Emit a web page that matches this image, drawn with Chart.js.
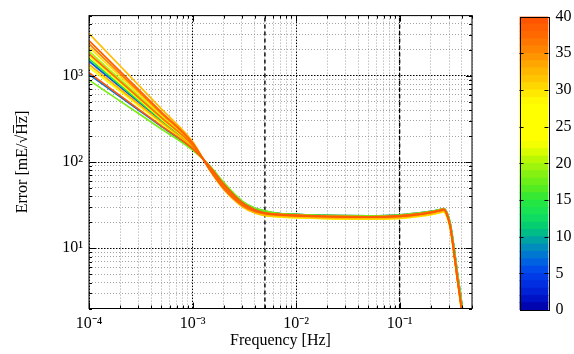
<!DOCTYPE html>
<html>
<head>
<meta charset="utf-8">
<script src="https://cdn.jsdelivr.net/npm/chart.js@4"></script>
<style>
html, body { margin: 0; padding: 0; background: #fff; }
#wrap { position: relative; width: 574px; height: 354px; }
#spectra { position: absolute; left: 0; top: 0; }
#colorbar { position: absolute; left: 500px; top: 0; }
</style>
</head>
<body>
<div id="wrap">
<canvas id="spectra" width="500" height="354"></canvas>
<canvas id="colorbar" width="74" height="354"></canvas>
</div>
<script>
const freqs = [1e-4, 2e-4, 5e-4, 1e-3, 1.5e-3, 2e-3, 3e-3, 4e-3, 5e-3, 7e-3, 1e-2, 2e-2, 5e-2, 0.1, 0.15, 0.2, 0.25, 0.267, 0.29, 0.309, 0.333, 0.359, 0.396, 0.43];

// error ASD per run [mE/sqrt(Hz)]
const run06 = [1480, 744, 300, 151, 84, 54, 34, 28.5, 26.5, 25.3, 24.8, 24.1, 23.8, 24.3, 25.6, 26.8, 28.3, 28.8, 25.0, 19.2, 10.8, 5.5, 2.4, 1.15];
const run07 = [1040, 571, 259, 142, 87, 56.5, 35, 29, 27, 25.0, 24.5, 23.9, 23.6, 24.1, 25.3, 26.6, 28.1, 28.6, 24.6, 18.7, 10.4, 5.3, 2.3, 1.1];
const run15 = [1575, 781, 309, 153, 83.5, 53, 33.5, 28.2, 26.4, 25.0, 24.5, 23.9, 23.6, 24.1, 25.3, 26.6, 28.1, 28.6, 24.6, 18.7, 10.4, 5.3, 2.3, 1.1];
const run18 = [893, 509, 242, 138, 88, 58, 35.5, 29.3, 27.2, 25.3, 24.8, 24.1, 23.8, 24.3, 25.6, 26.8, 28.3, 28.8, 25.0, 19.2, 10.8, 5.5, 2.4, 1.15];
const run20 = [1930, 911, 337, 159, 81, 51.5, 32.5, 27.3, 25.8, 24.7, 24.2, 23.5, 23.2, 23.8, 25.0, 26.2, 27.8, 28.4, 23.9, 17.8, 9.6, 4.8, 2.05, 0.97];
const run27 = [1260, 660, 281, 147, 85, 54.5, 33, 26.8, 24.2, 23.1, 22.6, 22.0, 21.8, 22.2, 23.4, 24.5, 26.0, 26.6, 22.3, 16.6, 8.9, 4.5, 1.9, 0.9];
const run28 = [1690, 824, 318, 155, 82.5, 52.5, 32.5, 26.8, 24.6, 23.6, 23.1, 22.5, 22.2, 22.7, 23.9, 25.0, 26.6, 27.2, 22.8, 17.0, 9.1, 4.6, 1.95, 0.92];
const run30 = [2150, 988, 353, 162, 80, 50.5, 31.5, 25.8, 23.8, 23.1, 22.6, 22.0, 21.8, 22.2, 23.4, 24.5, 26.0, 26.6, 22.3, 16.6, 8.9, 4.5, 1.9, 0.9];
const run32 = [3100, 1300, 413, 173, 77, 48, 30.5, 25.6, 24.2, 23.6, 23.1, 22.5, 22.2, 22.7, 23.9, 25.0, 26.6, 27.2, 22.8, 17.0, 9.1, 4.6, 1.95, 0.92];
const run33 = [1360, 699, 290, 149, 84.5, 53.5, 33.3, 27.4, 25.3, 24.3, 23.8, 23.2, 22.9, 23.4, 24.6, 25.8, 27.4, 28.0, 23.5, 17.5, 9.4, 4.7, 2.0, 0.95];
const run36 = [2350, 1056, 367, 164.5, 79, 50, 32, 27, 25.5, 24.7, 24.2, 23.5, 23.2, 23.8, 25.0, 26.2, 27.8, 28.4, 23.9, 17.8, 9.6, 4.8, 2.05, 0.97];
const run37 = [1800, 864, 327, 157, 82, 52, 32.5, 27, 25.2, 24.3, 23.8, 23.2, 22.9, 23.4, 24.6, 25.8, 27.4, 28.0, 23.5, 17.5, 9.4, 4.7, 2.0, 0.95];
const run38 = [2570, 1128, 380, 167, 78, 49.5, 31.7, 26.8, 25.4, 24.7, 24.2, 23.5, 23.2, 23.8, 25.0, 26.2, 27.8, 28.4, 23.9, 17.8, 9.6, 4.8, 2.05, 0.97];
const run39 = [1085, 589, 263, 143, 86, 55.5, 34, 28, 25.7, 24.3, 23.8, 23.2, 22.9, 23.4, 24.6, 25.8, 27.4, 28.0, 23.5, 17.5, 9.4, 4.7, 2.0, 0.95];

const runs = [run06, run07, run15, run18, run20, run27, run28, run30, run32, run33, run36, run37, run38, run39];
// colour bar value of each run
const runLevels = [6, 7, 15, 18, 20, 27, 28, 30, 32, 33, 36, 37, 38, 39];

// dashed band markers [Hz]
const bandEdges = [5e-3, 0.1];

// axis ranges and labels
const xRange = [1e-4, 0.5];
const yRange = [2, 5000];
const xDecades = [1e-4, 1e-3, 1e-2, 1e-1];
const xDecadeLabels = ['10\u207B\u2074', '10\u207B\u00B3', '10\u207B\u00B2', '10\u207B\u00B9'];
const yDecades = [1, 10, 100, 1000];
const yDecadeLabels = ['10\u2070', '10\u00B9', '10\u00B2', '10\u00B3'];

// colour bar
const cbLevels = [0, 1, 2, 3, 4, 5, 6, 7, 8, 9, 10, 11, 12, 13, 14, 15, 16, 17, 18, 19, 20, 21, 22, 23, 24, 25, 26, 27, 28, 29, 30, 31, 32, 33, 34, 35, 36, 37, 38, 39];
const cbTicks = [0, 5, 10, 15, 20, 25, 30, 35, 40];

// colormap stops: level, r, g, b
const cmapStops = [
    [0, 0, 0, 160], [1, 0, 10, 190], [3, 0, 40, 220], [5, 0, 65, 235], [6, 0, 85, 230],
    [7, 0, 110, 220], [8, 0, 130, 200], [9, 0, 150, 175], [10, 0, 175, 150], [11, 0, 200, 120],
    [13, 20, 225, 90], [15, 40, 230, 60], [16, 70, 235, 40], [18, 120, 240, 20], [20, 170, 245, 10],
    [21, 200, 250, 0], [22, 230, 255, 0], [23, 255, 255, 0], [28, 255, 255, 0], [30, 255, 225, 0],
    [31, 255, 205, 0], [33, 255, 175, 0], [35, 255, 140, 0], [37, 255, 110, 0], [40, 255, 80, 0]
];

const serif = 'Liberation Serif';

function levelColor(v) {
    for (let i = 1; i < cmapStops.length; i++) {
        const a = cmapStops[i - 1], b = cmapStops[i];
        if (v <= b[0]) {
            const t = (v - a[0]) / (b[0] - a[0]);
            const c = [1, 2, 3].map(k => Math.round(a[k] + t * (b[k] - a[k])));
            return `rgb(${c[0]},${c[1]},${c[2]})`;
        }
    }
    return 'rgb(255,80,0)';
}

function logTicks(decades, lo, hi) {
    const out = [];
    decades.forEach(d => {
        for (let m = 1; m <= 9; m++) {
            const v = m * d;
            if (v >= lo * 0.999 && v <= hi * 1.001) out.push({ value: v, major: m === 1 });
        }
    });
    return out;
}

function decadeLabel(decades, labels) {
    return value => {
        const i = decades.findIndex(d => Math.abs(d - value) / d < 1e-6);
        return i >= 0 ? labels[i] : '';
    };
}

const datasets = runs.map((vals, i) => ({
    data: freqs.map((f, j) => ({ x: f, y: vals[j] })),
    borderColor: levelColor(runLevels[i]),
    borderWidth: 1.7,
    pointRadius: 0,
    cubicInterpolationMode: 'monotone',
    order: 100 - runLevels[i]
}));

bandEdges.forEach(f => {
    datasets.push({
        data: [{ x: f, y: yRange[0] }, { x: f, y: yRange[1] }],
        borderColor: '#000',
        borderWidth: 1.4,
        borderDash: [4, 3],
        pointRadius: 0,
        order: 200
    });
});

const gridStyle = {
    color: ctx => (ctx.tick && ctx.tick.major) ? '#000' : '#8a8a8a',
    lineWidth: ctx => (ctx.tick && ctx.tick.major) ? 1 : 0.8,
    drawTicks: false
};
const borderStyle = {
    display: false,
    dash: ctx => (ctx.tick && ctx.tick.major) ? [1.5, 1.5] : [1, 2]
};

const spectraFrame = {
    id: 'spectraFrame',
    afterDraw(chart) {
        const { ctx, chartArea: a, scales: { x, y } } = chart;
        ctx.save();
        ctx.strokeStyle = '#000';
        ctx.lineWidth = 1;
        ctx.strokeRect(a.left, a.top, a.right - a.left, a.bottom - a.top);
        ctx.beginPath();
        x.ticks.forEach(t => {
            const px = Math.round(x.getPixelForValue(t.value)) + 0.5;
            const len = t.major ? 6 : 3;
            ctx.moveTo(px, a.bottom); ctx.lineTo(px, a.bottom - len);
            ctx.moveTo(px, a.top); ctx.lineTo(px, a.top + len);
        });
        y.ticks.forEach(t => {
            const py = Math.round(y.getPixelForValue(t.value)) + 0.5;
            const len = t.major ? 6 : 3;
            ctx.moveTo(a.left, py); ctx.lineTo(a.left + len, py);
            ctx.moveTo(a.right, py); ctx.lineTo(a.right - len, py);
        });
        ctx.stroke();
        ctx.restore();
    }
};

new Chart(document.getElementById('spectra'), {
    type: 'line',
    data: { datasets },
    options: {
        responsive: false,
        animation: false,
        devicePixelRatio: 1,
        layout: { padding: { top: 14, right: 28, left: 0, bottom: 0 } },
        plugins: { legend: { display: false }, tooltip: { enabled: false } },
        scales: {
            x: {
                type: 'logarithmic',
                min: xRange[0],
                max: xRange[1],
                afterBuildTicks: s => { s.ticks = logTicks(xDecades, xRange[0], xRange[1]); },
                afterFit: s => { s.height = 45.5; },
                ticks: {
                    autoSkip: false, maxRotation: 0, padding: 6, color: '#000',
                    font: { family: serif, size: 16 },
                    callback: decadeLabel(xDecades, xDecadeLabels)
                },
                grid: gridStyle,
                border: borderStyle,
                title: {
                    display: true, text: 'Frequency [Hz]', color: '#000',
                    font: { family: serif, size: 16 }, padding: { top: 0, bottom: 4 }
                }
            },
            y: {
                type: 'logarithmic',
                min: yRange[0],
                max: yRange[1],
                afterBuildTicks: s => { s.ticks = logTicks(yDecades, yRange[0], yRange[1]); },
                afterFit: s => { s.width = 89; },
                ticks: {
                    autoSkip: false, padding: 6, color: '#000',
                    font: { family: serif, size: 16 },
                    callback: decadeLabel(yDecades, yDecadeLabels)
                },
                grid: gridStyle,
                border: borderStyle,
                title: {
                    display: true, text: 'Error [mE/\u221AH\u0305z\u0305]', color: '#000',
                    font: { family: serif, size: 16 }, padding: { top: 13, bottom: 0 }
                }
            }
        }
    },
    plugins: [spectraFrame]
});

const cbFrame = {
    id: 'cbFrame',
    afterDraw(chart) {
        const { ctx, chartArea: a, scales: { y } } = chart;
        ctx.save();
        ctx.strokeStyle = '#000';
        ctx.lineWidth = 1;
        ctx.strokeRect(Math.round(a.left) + 0.5, Math.round(a.top) + 0.5, Math.round(a.right - a.left), Math.round(a.bottom - a.top));
        ctx.beginPath();
        cbTicks.slice(1, -1).forEach(v => {
            const py = Math.round(y.getPixelForValue(v)) + 0.5;
            ctx.moveTo(a.left, py); ctx.lineTo(a.left + 4, py);
            ctx.moveTo(a.right, py); ctx.lineTo(a.right - 4, py);
        });
        ctx.stroke();
        ctx.restore();
    }
};

new Chart(document.getElementById('colorbar'), {
    type: 'bar',
    data: {
        labels: [''],
        datasets: cbLevels.map(lv => ({
            data: [1],
            backgroundColor: levelColor(lv + 0.5),
            borderWidth: 0,
            barPercentage: 1,
            categoryPercentage: 1
        }))
    },
    options: {
        responsive: false,
        animation: false,
        devicePixelRatio: 1,
        layout: { padding: { left: 19.5, top: 14, bottom: 44, right: 0 } },
        plugins: { legend: { display: false }, tooltip: { enabled: false } },
        scales: {
            x: { display: false, stacked: true },
            y: {
                stacked: true,
                position: 'right',
                min: 0,
                max: 40,
                afterBuildTicks: s => { s.ticks = cbTicks.map(v => ({ value: v })); },
                afterFit: s => { s.width = 25.5; },
                grid: { display: false, drawTicks: false },
                border: { display: false },
                ticks: { padding: 7, color: '#000', font: { family: serif, size: 16 } }
            }
        }
    },
    plugins: [cbFrame]
});
</script>
</body>
</html>
